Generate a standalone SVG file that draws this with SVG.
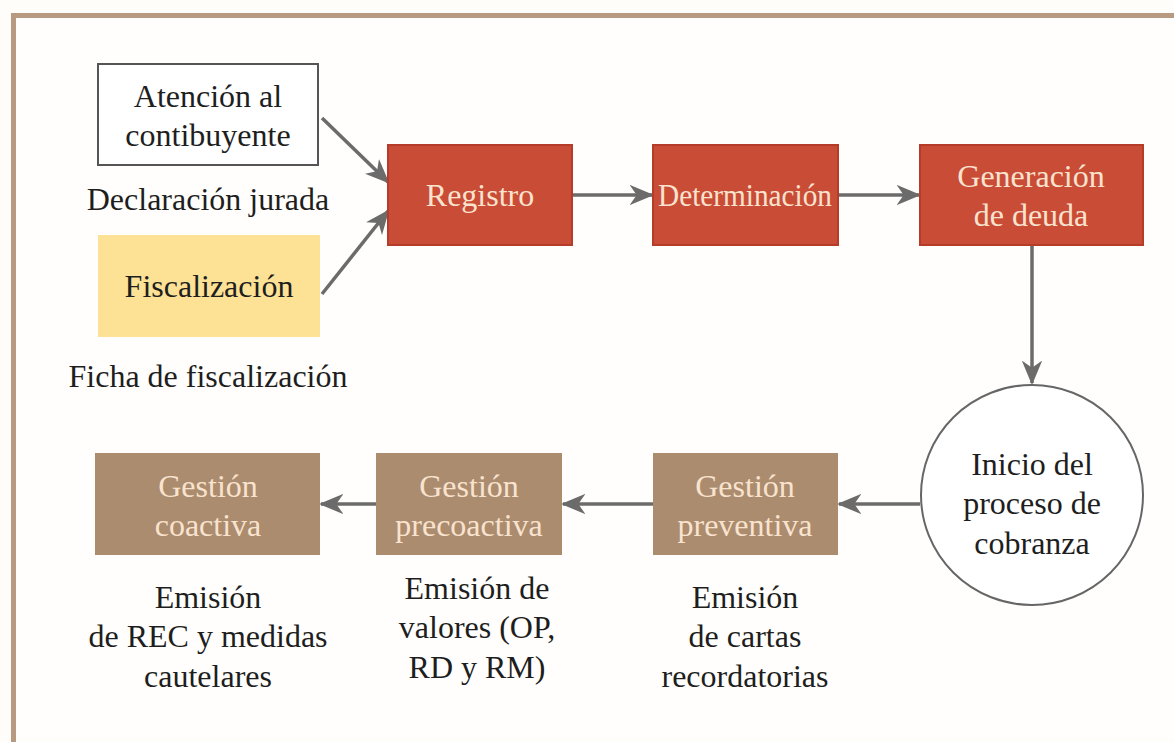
<svg xmlns="http://www.w3.org/2000/svg" width="1174" height="742" viewBox="0 0 1174 742">
<defs>
<marker id="ah" viewBox="0 0 12 10" refX="11" refY="5" markerWidth="7" markerHeight="6" orient="auto" markerUnits="strokeWidth">
<path d="M0,0 L12,5 L0,10 L3.5,5 Z" fill="#6b6b6b"/>
</marker>
</defs>
<rect x="0" y="0" width="1174" height="742" fill="#fffdf9"/>
<path d="M13.5,742 V15.5 H1174" fill="none" stroke="#b89a80" stroke-width="5"/>
<rect x="16" y="18" width="1158" height="720" fill="#fffefc"/>

<g id="connectors" stroke="#6b6b6b" stroke-width="3.5" fill="none" marker-end="url(#ah)">
<line x1="322" y1="118" x2="388" y2="182"/>
<line x1="322" y1="294" x2="388" y2="211"/>
<line x1="573" y1="195" x2="652" y2="195"/>
<line x1="839" y1="195" x2="919" y2="195"/>
<line x1="1032" y1="246" x2="1032" y2="383"/>
<line x1="920" y1="504" x2="839" y2="504"/>
<line x1="653" y1="504" x2="563" y2="504"/>
<line x1="376" y1="504" x2="321" y2="504"/>
</g>

<g font-family="Liberation Serif" font-size="32" text-anchor="middle">
<g id="atencion" fill="#1e1e1e">
<rect x="98" y="64" width="220" height="101" fill="#fff" stroke="#555" stroke-width="2"/>
<text x="208" y="107" style="font-family:'Liberation Serif','Times New Roman',serif !important">Atención al</text>
<text x="208" y="146" style="font-family:'Liberation Serif','Times New Roman',serif !important">contibuyente</text>
</g>
<g id="declaracion" fill="#1e1e1e">
<text x="208" y="210" style="font-family:'Liberation Serif','Times New Roman',serif !important">Declaración jurada</text>
</g>
<g id="fiscalizacion" fill="#1e1e1e">
<rect x="98" y="235" width="222" height="102" fill="#fde296"/>
<text x="209" y="297" style="font-family:'Liberation Serif','Times New Roman',serif !important">Fiscalización</text>
</g>
<g id="ficha" fill="#1e1e1e">
<text x="208" y="387" style="font-family:'Liberation Serif','Times New Roman',serif !important">Ficha de fiscalización</text>
</g>

<g id="registro" fill="#f9e3cf">
<rect x="388" y="145" width="184" height="100" fill="#c94c36" stroke="#b63c2a" stroke-width="2"/>
<text x="480" y="206" style="font-family:'Liberation Serif','Times New Roman',serif !important">Registro</text>
</g>
<g id="determinacion" fill="#f9e3cf">
<rect x="653" y="145" width="185" height="100" fill="#c94c36" stroke="#b63c2a" stroke-width="2"/>
<text x="745" y="206" textLength="174" lengthAdjust="spacingAndGlyphs" style="font-family:'Liberation Serif','Times New Roman',serif !important">Determinación</text>
</g>
<g id="generacion" fill="#f9e3cf">
<rect x="920" y="145" width="223" height="100" fill="#c94c36" stroke="#b63c2a" stroke-width="2"/>
<text x="1031" y="187" style="font-family:'Liberation Serif','Times New Roman',serif !important">Generación</text>
<text x="1031" y="226" style="font-family:'Liberation Serif','Times New Roman',serif !important">de deuda</text>
</g>

<g id="inicio" fill="#1e1e1e">
<ellipse cx="1032" cy="495" rx="111" ry="110" fill="#fff" stroke="#666" stroke-width="2"/>
<text x="1032" y="475" style="font-family:'Liberation Serif','Times New Roman',serif !important">Inicio del</text>
<text x="1032" y="514" style="font-family:'Liberation Serif','Times New Roman',serif !important">proceso de</text>
<text x="1032" y="554" style="font-family:'Liberation Serif','Times New Roman',serif !important">cobranza</text>
</g>

<g id="preventiva" fill="#1e1e1e">
<rect x="653" y="453" width="185" height="102" fill="#ab8c6e"/>
<text x="745" y="497" fill="#f9e3cf" style="font-family:'Liberation Serif','Times New Roman',serif !important">Gestión</text>
<text x="745" y="536" fill="#f9e3cf" style="font-family:'Liberation Serif','Times New Roman',serif !important">preventiva</text>
<text x="745" y="608" style="font-family:'Liberation Serif','Times New Roman',serif !important">Emisión</text>
<text x="745" y="647" style="font-family:'Liberation Serif','Times New Roman',serif !important">de cartas</text>
<text x="745" y="687" style="font-family:'Liberation Serif','Times New Roman',serif !important">recordatorias</text>
</g>
<g id="precoactiva" fill="#1e1e1e">
<rect x="376" y="453" width="186" height="102" fill="#ab8c6e"/>
<text x="469" y="497" fill="#f9e3cf" style="font-family:'Liberation Serif','Times New Roman',serif !important">Gestión</text>
<text x="469" y="536" fill="#f9e3cf" style="font-family:'Liberation Serif','Times New Roman',serif !important">precoactiva</text>
<text x="477" y="599" style="font-family:'Liberation Serif','Times New Roman',serif !important">Emisión de</text>
<text x="477" y="638" style="font-family:'Liberation Serif','Times New Roman',serif !important">valores (OP,</text>
<text x="477" y="678" style="font-family:'Liberation Serif','Times New Roman',serif !important">RD y RM)</text>
</g>
<g id="coactiva" fill="#1e1e1e">
<rect x="95" y="453" width="225" height="102" fill="#ab8c6e"/>
<text x="208" y="497" fill="#f9e3cf" style="font-family:'Liberation Serif','Times New Roman',serif !important">Gestión</text>
<text x="208" y="536" fill="#f9e3cf" style="font-family:'Liberation Serif','Times New Roman',serif !important">coactiva</text>
<text x="208" y="608" style="font-family:'Liberation Serif','Times New Roman',serif !important">Emisión</text>
<text x="208" y="647" style="font-family:'Liberation Serif','Times New Roman',serif !important">de REC y medidas</text>
<text x="208" y="687" style="font-family:'Liberation Serif','Times New Roman',serif !important">cautelares</text>
</g>
</g>
</svg>
